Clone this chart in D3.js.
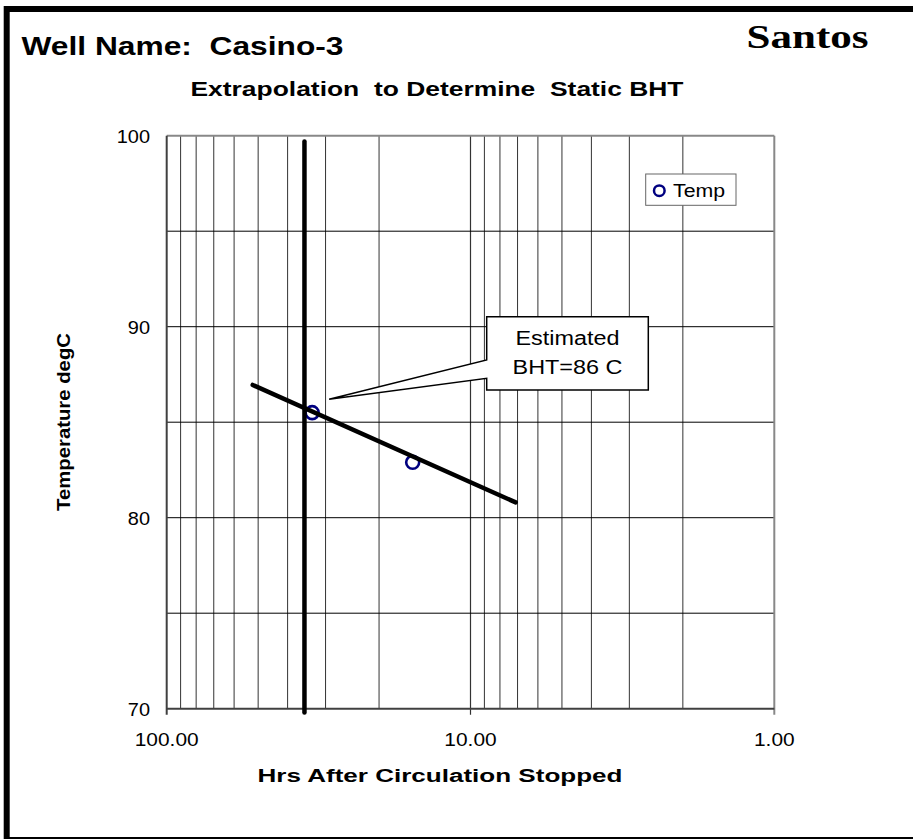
<!DOCTYPE html>
<html>
<head>
<meta charset="utf-8">
<script src="https://cdn.jsdelivr.net/npm/d3@7"></script>
<style>
  body { margin: 0; background: #fff; }
  svg { display: block; }
  text { font-family: "Liberation Sans", Arial, sans-serif; white-space: pre; }
</style>
</head>
<body>
<svg width="913" height="839"></svg>
<script>
var svg = d3.select('svg');
var w = 913;
var h = 839;

// measured temperatures (Horner-style plot, hours after circulation stopped)
var hours = [33.2, 15.5];
var temps = [85.5, 82.9];

// extrapolation line
var trendHours = [52.1, 7.1];
var trendTemps = [86.95, 80.8];

// vertical marker line
var markerHours = [35.2, 35.2];
var markerTemps = [99.7, 69.8];

// callout tip, in data units
var calloutHours = 29.2;
var calloutTemp = 86.2;
var calloutLines = ["Estimated", "BHT=86 C"];

var xTicks = [100, 10, 1];
var xMinor = [90, 80, 70, 60, 50, 40, 30, 20, 9, 8, 7, 6, 5, 4, 3, 2];
var yTicks = [70, 80, 90, 100];
var yGrid = [75, 80, 85, 90, 95];

// plot area
var pl = 166.7, pr = 774.3, pt = 135.7, pb = 708.7;

var x = d3.scaleLog().domain([100, 1]).range([pl, pr]);
var y = d3.scaleLinear().domain([70, 100]).range([pb, pt]);

// stretch text to a width (the original fonts render wider than Arial)
function fit(sel, width) {
  sel.attr("textLength", width).attr("lengthAdjust", "spacingAndGlyphs");
}
function widen(sel, k) {
  sel.each(function() {
    var n = this.getComputedTextLength();
    d3.select(this).attr("textLength", n * k).attr("lengthAdjust", "spacingAndGlyphs");
  });
}

svg.append("rect").attr("width", w).attr("height", h).attr("fill", "#fff");

// outer frame
svg.append("rect")
  .attr("x", 6.7).attr("y", 9)
  .attr("width", 930).attr("height", 831)
  .attr("fill", "none").attr("stroke", "#000").attr("stroke-width", 6);

// titles
svg.append("text").attr("x", 21.5).attr("y", 55)
  .attr("font-size", 26).attr("font-weight", "bold")
  .text("Well Name:  Casino-3").call(fit, 322);

svg.append("text").attr("x", 746.5).attr("y", 47.5)
  .attr("font-size", 33).attr("font-weight", "bold")
  .style("font-family", "'Liberation Serif', 'Times New Roman', serif")
  .text("Santos").call(fit, 122);

svg.append("text").attr("x", 190.5).attr("y", 96)
  .attr("font-size", 21).attr("font-weight", "bold")
  .text("Extrapolation  to Determine  Static BHT").call(fit, 493);

// gridlines
var g = svg.append("g");
g.selectAll("line.vminor").data(xMinor).enter()
  .append("line")
  .attr("x1", x).attr("x2", x)
  .attr("y1", pt).attr("y2", pb)
  .attr("stroke", "#333").attr("stroke-width", 1);

g.selectAll("line.vmajor").data([10]).enter()
  .append("line")
  .attr("x1", x).attr("x2", x)
  .attr("y1", pt).attr("y2", pb + 6)
  .attr("stroke", "#333").attr("stroke-width", 1.2);

g.selectAll("line.hgrid").data(yGrid).enter()
  .append("line")
  .attr("x1", pl).attr("x2", pr)
  .attr("y1", y).attr("y2", y)
  .attr("stroke", "#000").attr("stroke-width", 1);

// plot border
svg.append("line").attr("x1", pl).attr("x2", pr).attr("y1", pt).attr("y2", pt)
  .attr("stroke", "#888").attr("stroke-width", 2);
svg.append("line").attr("x1", pr).attr("x2", pr).attr("y1", pt).attr("y2", pb + 6)
  .attr("stroke", "#888").attr("stroke-width", 2);
svg.append("line").attr("x1", pl).attr("x2", pl).attr("y1", pt).attr("y2", pb + 6)
  .attr("stroke", "#404040").attr("stroke-width", 2);
svg.append("line").attr("x1", pl).attr("x2", pr).attr("y1", pb).attr("y2", pb)
  .attr("stroke", "#404040").attr("stroke-width", 2);

// tick labels
svg.selectAll("text.xt").data(xTicks).enter()
  .append("text")
  .attr("x", x).attr("y", 746)
  .attr("text-anchor", "middle")
  .attr("font-size", 19)
  .text(function(d) { return d3.format(".2f")(d) })
  .call(widen, 1.1);

svg.selectAll("text.yt").data(yTicks).enter()
  .append("text")
  .attr("x", 150).attr("y", y)
  .attr("dy", "0.36em")
  .attr("text-anchor", "end")
  .attr("font-size", 19)
  .text(function(d) { return d })
  .call(widen, 1.05);

// axis titles
svg.append("text").attr("x", 440).attr("y", 781.5)
  .attr("text-anchor", "middle")
  .attr("font-size", 18).attr("font-weight", "bold")
  .text("Hrs After Circulation Stopped").call(fit, 365);

svg.append("text")
  .attr("transform", "translate(70,422) rotate(-90)")
  .attr("text-anchor", "middle")
  .attr("font-size", 18).attr("font-weight", "bold")
  .text("Temperature degC").call(fit, 178);

// data points
var pts = hours.map(function(d, i) { return { h: d, t: temps[i] } });
svg.selectAll("circle.pt").data(pts).enter()
  .append("circle")
  .attr("cx", function(d) { return x(d.h) })
  .attr("cy", function(d) { return y(d.t) })
  .attr("r", 6.5)
  .attr("fill", "none")
  .attr("stroke", "#000080").attr("stroke-width", 2.6);

// extrapolation + marker lines
var line = d3.line().x(function(d) { return x(d[0]) }).y(function(d) { return y(d[1]) });
svg.append("path")
  .attr("d", line(d3.zip(trendHours, trendTemps)))
  .attr("stroke", "#000").attr("stroke-width", 4.5)
  .attr("stroke-linecap", "round").attr("fill", "none");
svg.append("path")
  .attr("d", line(d3.zip(markerHours, markerTemps)))
  .attr("stroke", "#000").attr("stroke-width", 4.5)
  .attr("stroke-linecap", "round").attr("fill", "none");

// callout
var bx0 = 486.7, bx1 = 648.3, by0 = 316.7, by1 = 390;
var tipX = x(calloutHours), tipY = y(calloutTemp);
var cp = d3.path();
cp.moveTo(bx0, by0);
cp.lineTo(bx1, by0);
cp.lineTo(bx1, by1);
cp.lineTo(bx0, by1);
cp.lineTo(bx0, 378.3);
cp.lineTo(tipX, tipY);
cp.lineTo(bx0, 360);
cp.closePath();
svg.append("path").attr("d", cp.toString())
  .attr("fill", "#fff").attr("stroke", "#000").attr("stroke-width", 1.5)
  .attr("stroke-linejoin", "miter");

svg.selectAll("text.call").data(calloutLines).enter()
  .append("text")
  .attr("x", (bx0 + bx1) / 2)
  .attr("y", function(d, i) { return 345 + i * 29 })
  .attr("text-anchor", "middle")
  .attr("font-size", 20)
  .text(function(d) { return d })
  .call(widen, 1.17);

// legend
var lg = svg.append("g").attr("transform", "translate(645.7,174)");
lg.append("rect").attr("width", 90.3).attr("height", 31.3)
  .attr("fill", "#fff").attr("stroke", "#666").attr("stroke-width", 1);
lg.append("circle").attr("cx", 13.6).attr("cy", 16.7).attr("r", 5.3)
  .attr("fill", "none").attr("stroke", "#000080").attr("stroke-width", 2.5);
lg.append("text").attr("x", 27.3).attr("y", 22.7)
  .attr("font-size", 18).text("Temp").call(fit, 52);
</script>
</body>
</html>
